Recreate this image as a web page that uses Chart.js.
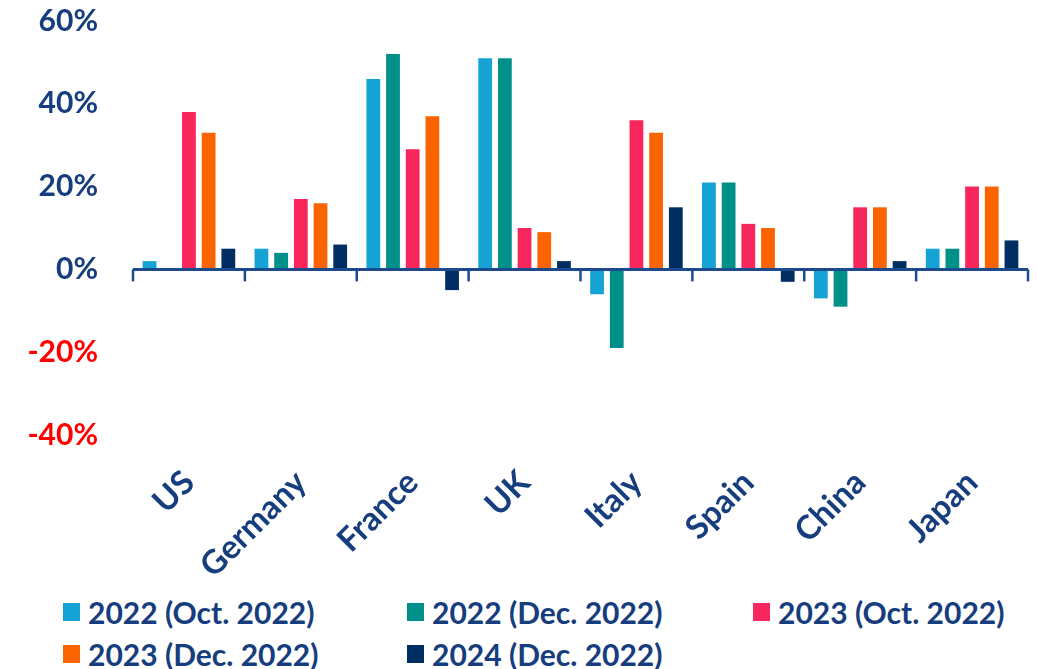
<!DOCTYPE html>
<html>
<head>
<meta charset="utf-8">
<script src="https://cdn.jsdelivr.net/npm/chart.js@4.4.1/dist/chart.umd.min.js"></script>
<style>
  html, body { margin: 0; padding: 0; background: #fff; overflow: hidden; }
  #wrap { position: relative; width: 1037px; height: 669px; overflow: hidden; }
  #box { position: absolute; left: 0; top: -24px; width: 1037px; height: 614px; }
  #legend { position: absolute; left: 0; top: 590px; width: 1037px; height: 79px; font-family: Lato, sans-serif; }
  .item { position: absolute; display: flex; align-items: center; font-size: 30px; font-weight: 700; color: #163d7d; white-space: nowrap; }
  .swatch { width: 17px; height: 18px; margin-right: 8px; }
</style>
</head>
<body>
<div id="wrap">
  <div id="box"><canvas id="growth-chart"></canvas></div>
  <div id="legend"></div>
</div>
<script>
const countries = ["US", "Germany", "France", "UK", "Italy", "Spain", "China", "Japan"];
const seriesNames = ["2022 (Oct. 2022)", "2022 (Dec. 2022)", "2023 (Oct. 2022)", "2023 (Dec. 2022)", "2024 (Dec. 2022)"];
const y2022Oct = [2, 5, 46, 51, -6, 21, -7, 5];
const y2022Dec = [0, 4, 52, 51, -19, 21, -9, 5];
const y2023Oct = [38, 17, 29, 10, 36, 11, 15, 20];
const y2023Dec = [33, 16, 37, 9, 33, 10, 15, 20];
const y2024Dec = [5, 6, -5, 2, 15, -3, 2, 7];
const yTicks = [-40, -20, 0, 20, 40, 60];

const colors = ["#15a3d6", "#00908a", "#f7265c", "#fa6400", "#002d62"];
const navy = "#163d7d";
const axisBlue = "#1d4a8e";

// zero line with category boundary ticks hanging below it
const zeroAxis = {
  id: "zeroAxis",
  afterDatasetsDraw(chart) {
    const { ctx, chartArea, scales } = chart;
    const y0 = scales.y.getPixelForValue(0);
    const step = (scales.x.right - scales.x.left) / countries.length;
    ctx.save();
    ctx.strokeStyle = axisBlue;
    ctx.lineWidth = 3;
    ctx.beginPath();
    ctx.moveTo(chartArea.left, y0);
    ctx.lineTo(chartArea.right, y0);
    ctx.stroke();
    ctx.lineWidth = 2.5;
    for (let i = 0; i <= countries.length; i++) {
      const x = scales.x.getPixelForValue(0) - step / 2 + i * step;
      ctx.beginPath();
      ctx.moveTo(x, y0);
      ctx.lineTo(x, y0 + 12);
      ctx.stroke();
    }
    ctx.restore();
  },
};

const values = [y2022Oct, y2022Dec, y2023Oct, y2023Dec, y2024Dec];
const datasets = seriesNames.map((name, i) => ({
  label: name,
  data: values[i],
  backgroundColor: colors[i],
  categoryPercentage: 0.88,
  barPercentage: 0.7,
}));

const ctx = document.getElementById("growth-chart");
new Chart(ctx, {
  type: "bar",
  data: { labels: countries, datasets },
  plugins: [zeroAxis],
  options: {
    responsive: true,
    maintainAspectRatio: false,
    animation: false,
    layout: { padding: { top: -25, right: 9, bottom: 0, left: 0 } },
    plugins: { legend: { display: false }, tooltip: { enabled: false } },
    scales: {
      x: {
        grid: { display: false },
        border: { display: false },
        ticks: {
          color: navy,
          font: { family: "Lato", size: 33, weight: "bold" },
          maxRotation: 45,
          minRotation: 45,
          padding: 20,
        },
        afterFit: (s) => { s.height = 155; },
      },
      y: {
        min: -40,
        max: 60,
        afterBuildTicks: (s) => { s.ticks = yTicks.map((v) => ({ value: v })); },
        grid: { display: false },
        border: { display: false },
        ticks: {
          color: (c) => (c.tick.value < 0 ? "#ff0000" : navy),
          font: { family: "Lato", size: 30, weight: "bold" },
          padding: 27,
          callback: (v) => v + "%",
        },
        afterFit: (s) => { s.width = 133; },
      },
    },
  },
});

// legend laid out in fixed columns
const legend = document.getElementById("legend");
const cols = [63, 407, 753];
seriesNames.forEach((name, i) => {
  const item = document.createElement("div");
  item.className = "item";
  item.style.left = cols[i % 3] + "px";
  item.style.top = (i < 3 ? 4 : 46) + "px";
  item.innerHTML = `<span class="swatch" style="background:${colors[i]}"></span>${name}`;
  legend.appendChild(item);
});
</script>
</body>
</html>
